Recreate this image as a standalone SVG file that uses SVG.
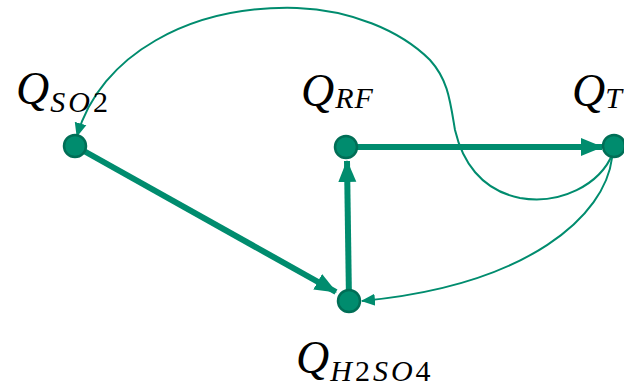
<svg xmlns="http://www.w3.org/2000/svg" width="624" height="387" viewBox="0 0 624 387">
<style>
.thin{fill:none;stroke:#008C6E;stroke-width:2}
.thick{fill:none;stroke:#008C6E;stroke-width:6}
.node{fill:#008C6E;stroke:#006E56;stroke-width:2.5}
.q{font-family:"Liberation Serif","DejaVu Serif",serif;font-style:italic;font-size:46px;fill:#000}
.s{font-family:"Liberation Serif","DejaVu Serif",serif;font-style:italic;font-size:30px;letter-spacing:3px;fill:#000}
.d{font-style:normal}
</style>
<defs>
<marker id="ah" markerUnits="userSpaceOnUse" markerWidth="14" markerHeight="14" viewBox="0 0 14 14" refX="13" refY="7" orient="auto">
<path d="M0,1 L14,7 L0,13 Z" fill="#008C6E"/>
</marker>
<marker id="AH" markerUnits="userSpaceOnUse" markerWidth="22" markerHeight="20" viewBox="0 0 22 20" refX="21" refY="10" orient="auto">
<path d="M0,1 L22,10 L0,19 Z" fill="#008C6E"/>
</marker>
</defs>
<g id="connectors">
<path class="thick" d="M75,146 L336,292" marker-end="url(#AH)"/>
<path class="thick" d="M349,301 L347,161" marker-end="url(#AH)"/>
<path class="thick" d="M346,147 L602,147" marker-end="url(#AH)"/>
<path class="thin" d="M613,153 C600,185 560,205 520,198 C480,190 462,160 455,130 C450,100 448,80 430,60 C400,30 350,10 297,8 C190,5 100,55 77,136" marker-end="url(#ah)"/>
<path class="thin" d="M612,158 C605,215 530,285 362,301" marker-end="url(#ah)"/>
</g>
<g id="node-qso2">
<circle class="node" cx="75" cy="146" r="11"/>
<text class="q" x="16" y="104">Q<tspan class="s" dx="1" dy="8">SO</tspan><tspan class="s d">2</tspan></text>
</g>
<g id="node-qrf">
<circle class="node" cx="346" cy="147" r="11"/>
<text class="q" x="301" y="106">Q<tspan class="s" dx="1" dy="2" style="letter-spacing:1px">RF</tspan></text>
</g>
<g id="node-qt">
<circle class="node" cx="614" cy="146" r="11"/>
<text class="q" x="572" y="106">Q<tspan class="s" dx="0" dy="2">T</tspan></text>
</g>
<g id="node-qh2so4">
<circle class="node" cx="349" cy="301" r="11"/>
<text class="q" x="296" y="373">Q<tspan class="s" dx="1" dy="8">H</tspan><tspan class="s d">2</tspan><tspan class="s">SO</tspan><tspan class="s d">4</tspan></text>
</g>
</svg>
